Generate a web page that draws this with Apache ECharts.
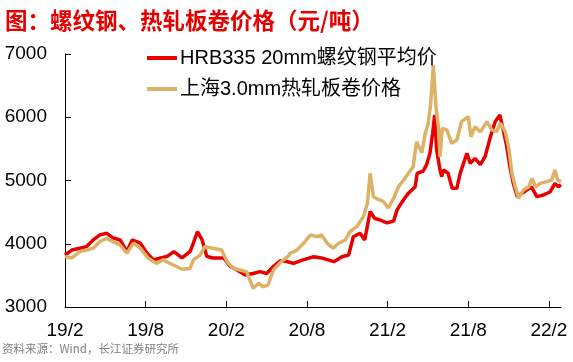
<!DOCTYPE html>
<html><head><meta charset="utf-8">
<script src="https://cdn.jsdelivr.net/npm/echarts@6/dist/echarts.min.js"></script>
<style>html,body{margin:0;padding:0;background:#fff}#c{width:573px;height:362px}</style>
</head><body><div id="c"></div>
<script>
// x values: months since 2019-02
const tickMonths = [0, 6, 12, 18, 24, 30, 36];
const tickLabels = ['19/2', '19/8', '20/2', '20/8', '21/2', '21/8', '22/2'];
const rebarName = 'HRB335 20mm螺纹钢平均价';
const coilName = '上海3.0mm热轧板卷价格';
const rebarMonths = [0.0,0.5,1.1,1.6,2.1,2.6,3.1,3.6,4.1,4.6,5.0,5.6,6.1,6.6,7.1,7.6,8.1,8.7,9.3,9.55,9.85,10.2,10.55,11.0,11.8,12.3,12.8,13.4,14.0,14.5,15.0,15.5,16.0,16.5,17.0,17.7,18.5,19.2,20.0,20.6,21.1,21.45,21.95,22.3,22.7,23.05,23.45,23.95,24.45,24.7,25.2,25.55,26.05,26.2,26.65,26.9,27.15,27.35,27.5,27.65,27.9,28.03,28.15,28.5,28.8,29.15,29.4,29.9,30.15,30.5,30.9,31.25,31.65,32.0,32.35,32.6,32.85,33.1,33.35,33.65,34.0,34.35,34.7,35.1,35.6,36.1,36.45,36.7,36.9];
const rebarPrices = [3822,3900,3930,3955,4060,4140,4165,4090,4060,3875,4060,4010,3850,3745,3775,3800,3875,3775,3875,4010,4190,4060,3800,3775,3775,3640,3585,3505,3530,3560,3530,3640,3730,3720,3690,3745,3795,3770,3717,3795,3822,4110,4165,4060,4510,4400,4375,4330,4360,4535,4700,4800,4900,5114,5150,5250,5430,5745,6036,5482,5166,5060,5166,5114,4877,4877,5113,5430,5270,5350,5250,5376,5692,5930,6036,5800,5550,5218,4955,4745,4798,4850,4900,4745,4770,4823,4955,4900,4930];
const coilMonths = [0.0,0.5,1.1,1.6,2.1,2.6,3.1,3.6,4.1,4.6,5.1,5.6,6.2,6.8,7.3,7.8,8.3,8.7,9.3,9.55,10.05,10.4,11.0,11.65,12.05,12.5,13.0,13.5,14.0,14.4,14.75,15.1,15.5,16.0,16.6,16.75,17.25,17.75,18.25,18.75,19.1,19.5,19.95,20.35,20.85,21.2,21.7,22.2,22.5,22.7,22.95,23.3,23.7,24.05,24.45,24.8,25.2,25.55,25.9,26.15,26.55,26.8,27.0,27.2,27.4,27.6,27.78,27.9,28.07,28.4,28.77,29.15,29.5,30.0,30.2,30.5,30.9,31.4,31.75,32.1,32.4,32.75,33.0,33.25,33.5,33.75,34.1,34.5,34.75,35.0,35.35,35.85,36.2,36.45,36.65,36.9];
const coilPrices = [3795,3775,3875,3900,3930,4035,4085,4030,3980,3850,4010,3930,3770,3690,3745,3690,3640,3597,3610,3745,3820,3955,3930,3900,3720,3610,3585,3558,3296,3375,3320,3350,3585,3700,3800,3850,3900,4007,4138,4112,4138,4007,3930,4007,4060,4190,4270,4428,4640,5114,4745,4700,4665,4565,4720,4900,5008,5114,5218,5614,5440,5745,5877,6200,6820,6167,5850,5376,5825,5800,5588,5640,5930,6010,5692,5850,5772,5930,5800,5772,5904,5772,5535,5114,4900,4718,4850,4900,5035,4900,4955,4982,5008,5166,5008,4982];
const yTicks = [3000, 4000, 5000, 6000, 7000];

const FONT = "'Liberation Sans', Arial, 'Noto Sans CJK SC', sans-serif";
const chart = echarts.init(document.getElementById('c'), null, {renderer: 'canvas'});
const zip = (a, b) => a.map((x, i) => [x, b[i]]);
chart.setOption({
  animation: false,
  backgroundColor: '#fff',
  title: {
    text: '图：螺纹钢、热轧板卷价格（元/吨）',
    left: 0, top: 4,
    textStyle: {color: '#e60000', fontSize: 22.5, fontWeight: 'bold', fontFamily: "'Noto Sans CJK SC', sans-serif"}
  },
  graphic: [{
    type: 'text', left: 2, top: 343,
    style: {text: '资料来源：Wind，长江证券研究所', fill: '#808080', font: "11.5px 'Noto Sans CJK SC', sans-serif"}
  }],
  legend: {
    orient: 'vertical', left: 142, top: 43,
    itemWidth: 30, itemHeight: 4, itemGap: 11,
    icon: 'rect',
    data: [rebarName, coilName],
    textStyle: {fontSize: 20, color: '#000', fontFamily: FONT, lineHeight: 20, padding: [0,0,0,-2]}
  },
  grid: {left: 65, right: 12, top: 54, bottom: 55},
  xAxis: {
    type: 'value', min: 0, max: 36.9,
    axisLine: {show: true, lineStyle: {color: '#000', width: 1}},
    axisTick: {show: true, inside: true, length: 6, lineStyle: {color: '#000'}, customValues: tickMonths},
    axisLabel: {
      customValues: tickMonths,
      formatter: v => { const i = tickMonths.indexOf(Math.round(v)); return i >= 0 ? tickLabels[i] : ''; },
      fontSize: 19, color: '#000', fontFamily: FONT, margin: 14
    },
    splitLine: {show: false}
  },
  yAxis: {
    type: 'value', min: yTicks[0], max: yTicks[yTicks.length - 1], interval: 1000,
    axisLine: {show: true, lineStyle: {color: '#000', width: 1}},
    axisTick: {show: true, inside: true, length: 6, lineStyle: {color: '#000'}},
    axisLabel: {fontSize: 19, color: '#000', fontFamily: FONT, margin: 18, formatter: v => String(v)},
    splitLine: {show: false}
  },
  series: [
    {name: rebarName, type: 'line', data: zip(rebarMonths, rebarPrices), showSymbol: false, symbol: 'none',
     lineStyle: {color: '#e60000', width: 3.5}, itemStyle: {color: '#e60000'}},
    {name: coilName, type: 'line', data: zip(coilMonths, coilPrices), showSymbol: false, symbol: 'none',
     lineStyle: {color: '#dcb266', width: 3.5}, itemStyle: {color: '#dcb266'}}
  ]
});
</script></body></html>
